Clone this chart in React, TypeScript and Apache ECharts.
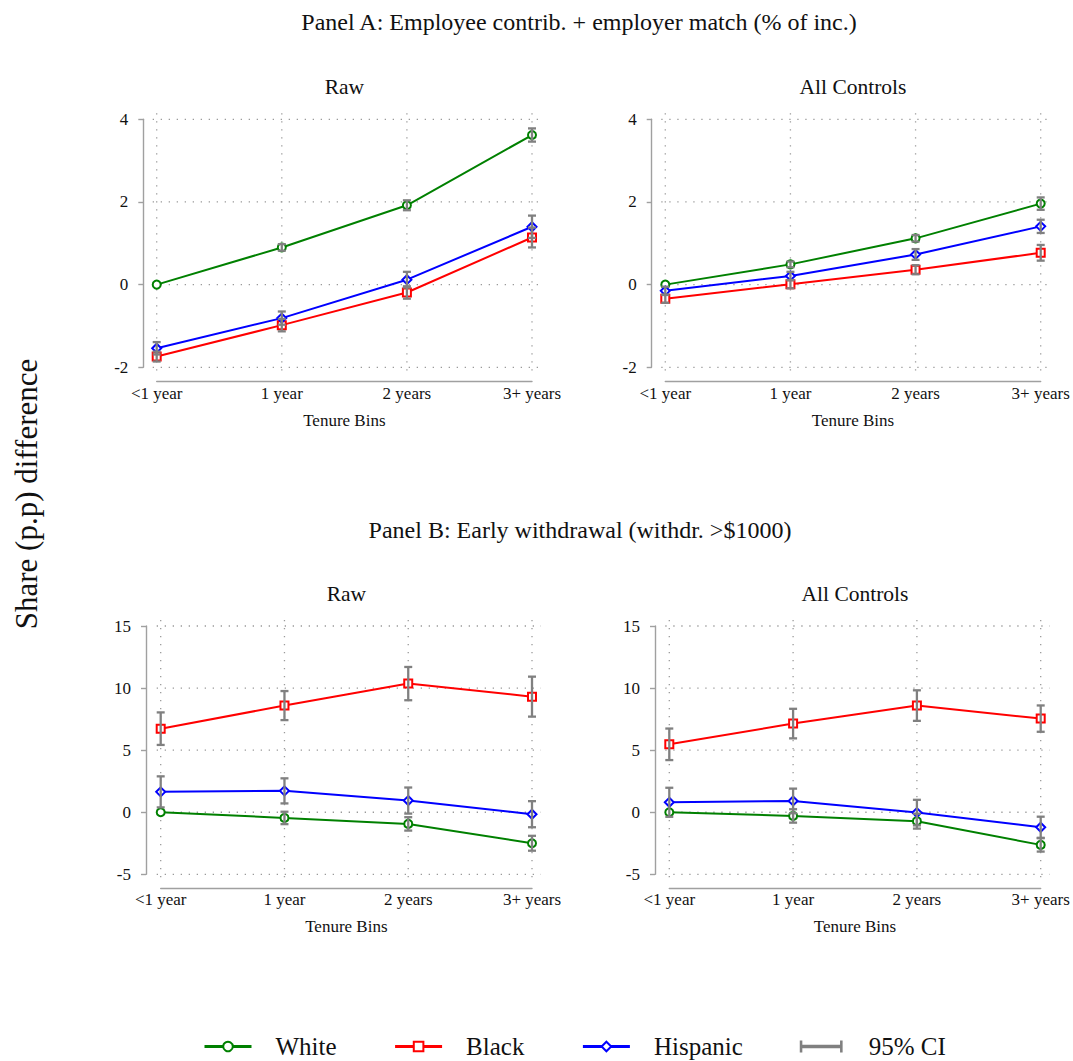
import React, { useEffect, useRef } from "react";
import * as echarts from "echarts";

// ---------- data ----------
const categories = ["<1 year", "1 year", "2 years", "3+ years"];
const groupNames = ["White", "Black", "Hispanic"];

// Panel A: Employee contrib. + employer match (% of inc.)
const aRawWhite = [0, 0.9, 1.92, 3.62];
const aRawBlack = [-1.74, -0.98, -0.19, 1.14];
const aRawHispanic = [-1.54, -0.81, 0.12, 1.4];
const aRawWhiteCI = [null, 0.08, 0.12, 0.16];
const aRawBlackCI = [0.12, 0.15, 0.15, 0.24];
const aRawHispanicCI = [0.15, 0.16, 0.19, 0.27];

const aCtrlWhite = [0, 0.49, 1.12, 1.96];
const aCtrlBlack = [-0.34, 0.01, 0.36, 0.77];
const aCtrlHispanic = [-0.15, 0.21, 0.73, 1.41];
const aCtrlWhiteCI = [null, 0.07, 0.08, 0.15];
const aCtrlBlackCI = [0.1, 0.1, 0.11, 0.19];
const aCtrlHispanicCI = [0.1, 0.1, 0.13, 0.16];

// Panel B: Early withdrawal (withdr. >$1000)
const bRawWhite = [0, -0.46, -0.94, -2.5];
const bRawBlack = [6.73, 8.59, 10.36, 9.31];
const bRawHispanic = [1.64, 1.72, 0.94, -0.16];
const bRawWhiteCI = [null, 0.5, 0.54, 0.6];
const bRawBlackCI = [1.31, 1.17, 1.34, 1.61];
const bRawHispanicCI = [1.25, 1.01, 1.05, 1.05];

const bCtrlWhite = [0, -0.3, -0.72, -2.63];
const bCtrlBlack = [5.47, 7.14, 8.59, 7.54];
const bCtrlHispanic = [0.8, 0.91, -0.03, -1.21];
const bCtrlWhiteCI = [null, 0.54, 0.6, 0.54];
const bCtrlBlackCI = [1.27, 1.19, 1.23, 1.06];
const bCtrlHispanicCI = [1.17, 0.99, 1.03, 0.85];

const yTicksA = [-2, 0, 2, 4];
const yTicksB = [-5, 0, 5, 10, 15];

const panelATitle = "Panel A: Employee contrib. + employer match (% of inc.)";
const panelBTitle = "Panel B: Early withdrawal (withdr. >$1000)";
const subTitles = ["Raw", "All Controls"];
const xAxisTitle = "Tenure Bins";
const yAxisTitle = "Share (p.p) difference";

// ---------- styles / layout ----------
const FONT = "'Liberation Serif', 'Times New Roman', serif";
const TEXT = "#111";
const AXIS = "#a0a0a0";
const GRIDC = "#9a9a9a";
const CI_COLOR = "#808080";
const groupColors = ["#008000", "#ff0000", "#0000ff"];
const groupSymbols = ["emptyCircle", "emptyRect", "emptyDiamond"];
const groupSymbolSizes = [8, 8, 9];

const panels = [
  {
    values: [aRawWhite, aRawBlack, aRawHispanic],
    ci: [aRawWhiteCI, aRawBlackCI, aRawHispanicCI],
    ticks: yTicksA, x0: 156.7, x3: 532, yTop: 119.3, yBot: 367.3, yAxisX: 143.3, xAxisY: 381.7,
  },
  {
    values: [aCtrlWhite, aCtrlBlack, aCtrlHispanic],
    ci: [aCtrlWhiteCI, aCtrlBlackCI, aCtrlHispanicCI],
    ticks: yTicksA, x0: 665.3, x3: 1040.7, yTop: 119.3, yBot: 367.3, yAxisX: 651.7, xAxisY: 381.7,
  },
  {
    values: [bRawWhite, bRawBlack, bRawHispanic],
    ci: [bRawWhiteCI, bRawBlackCI, bRawHispanicCI],
    ticks: yTicksB, x0: 160.7, x3: 532, yTop: 626, yBot: 874.3, yAxisX: 146, xAxisY: 888.3,
  },
  {
    values: [bCtrlWhite, bCtrlBlack, bCtrlHispanic],
    ci: [bCtrlWhiteCI, bCtrlBlackCI, bCtrlHispanicCI],
    ticks: yTicksB, x0: 669.3, x3: 1040.7, yTop: 626, yBot: 874.3, yAxisX: 655, xAxisY: 888.3,
  },
];

const PAD_L = 4, PAD_R = 9, PAD_T = 6, PAD_B = 7;

function buildOption() {
  const grid: any[] = [];
  const xAxis: any[] = [];
  const yAxis: any[] = [];
  const series: any[] = [];

  panels.forEach((p, i) => {
    const yMin = p.ticks[0];
    const yMax = p.ticks[p.ticks.length - 1];
    const yInt = p.ticks[1] - p.ticks[0];
    const ppx = (p.x3 - p.x0) / 3;
    const ppy = (p.yBot - p.yTop) / (yMax - yMin);
    const outer = 2 * i;
    const inner = 2 * i + 1;

    grid.push({
      left: p.x0 - PAD_L,
      top: p.yTop - PAD_T,
      width: p.x3 - p.x0 + PAD_L + PAD_R,
      height: p.yBot - p.yTop + PAD_T + PAD_B,
    });
    grid.push({ left: p.x0, top: p.yTop, width: p.x3 - p.x0, height: p.yBot - p.yTop });

    xAxis.push({
      type: "value", gridIndex: outer, show: false,
      min: -PAD_L / ppx, max: 3 + PAD_R / ppx,
    });
    yAxis.push({
      type: "value", gridIndex: outer, show: false,
      min: yMin - PAD_B / ppy, max: yMax + PAD_T / ppy,
    });

    xAxis.push({
      type: "value", gridIndex: inner, min: 0, max: 3, interval: 1,
      position: "bottom",
      offset: p.xAxisY - p.yBot,
      axisLine: { show: true, onZero: false, lineStyle: { color: AXIS, width: 1.4 } },
      axisTick: { show: false },
      splitLine: { show: false },
      axisLabel: {
        formatter: (v: number) => categories[v] ?? "",
        fontSize: 17, fontFamily: FONT, color: TEXT, margin: 3,
      },
      name: xAxisTitle, nameLocation: "middle", nameGap: 30,
      nameTextStyle: { fontSize: 17, fontFamily: FONT, color: TEXT },
    });
    yAxis.push({
      type: "value", gridIndex: inner, min: yMin, max: yMax, interval: yInt,
      position: "left",
      offset: p.x0 - p.yAxisX,
      axisLine: { show: true, onZero: false, lineStyle: { color: AXIS, width: 1.4 } },
      axisTick: { show: true, length: 5, lineStyle: { color: AXIS, width: 1.4 } },
      splitLine: { show: false },
      axisLabel: { fontSize: 17, fontFamily: FONT, color: TEXT, margin: 15 },
    });

    // dotted gridlines (horizontal at y ticks, vertical at categories)
    const gridData: any[] = [];
    p.ticks.forEach((t) => gridData.push([0, t, 0]));
    categories.forEach((_, k) => gridData.push([k, p.ticks[1], 1]));
    series.push({
      type: "custom", xAxisIndex: outer, yAxisIndex: outer, silent: true, z: 1,
      data: gridData,
      renderItem: (params: any, api: any) => {
        const cs = params.coordSys;
        const pt = api.coord([api.value(0), api.value(1)]);
        const vertical = api.value(2) === 1;
        const shape = vertical
          ? { x1: pt[0], y1: cs.y, x2: pt[0], y2: cs.y + cs.height }
          : { x1: cs.x, y1: pt[1], x2: cs.x + cs.width, y2: pt[1] };
        return {
          type: "line", shape,
          style: { stroke: GRIDC, lineWidth: 1.3, lineDash: [1.3, 6.7] },
        };
      },
    });

    // lines
    groupNames.forEach((name, g) => {
      series.push({
        type: "line", name, xAxisIndex: inner, yAxisIndex: inner, z: 3,
        data: p.values[g].map((v, k) => [k, v]),
        symbol: groupSymbols[g], symbolSize: groupSymbolSizes[g], showSymbol: true,
        lineStyle: { color: groupColors[g], width: 2 },
        itemStyle: { color: groupColors[g], borderWidth: 1.8 },
        clip: false,
      });
    });

    // CIs
    const ciRows: any[] = [];
    groupNames.forEach((_, g) => {
      p.values[g].forEach((v, k) => {
        const h = p.ci[g][k];
        if (h != null) ciRows.push([k, v - h, v + h]);
      });
    });
    series.push({
      type: "custom", name: "95% CI", xAxisIndex: inner, yAxisIndex: inner, z: 5,
      itemStyle: { color: CI_COLOR },
      encode: { x: 0, y: [1, 2] },
      data: ciRows,
      renderItem: (params: any, api: any) => {
        const lo = api.coord([api.value(0), api.value(1)]);
        const hi = api.coord([api.value(0), api.value(2)]);
        const w = 4;
        const st = { stroke: CI_COLOR, lineWidth: 2.3 };
        return {
          type: "group",
          children: [
            { type: "line", shape: { x1: lo[0], y1: lo[1], x2: hi[0], y2: hi[1] }, style: st },
            { type: "line", shape: { x1: lo[0] - w, y1: lo[1], x2: lo[0] + w, y2: lo[1] }, style: st },
            { type: "line", shape: { x1: hi[0] - w, y1: hi[1], x2: hi[0] + w, y2: hi[1] }, style: st },
          ],
        };
      },
    });
  });

  const txt = (text: string, x: number, y: number, size: number, rotation = 0) => ({
    type: "text", x, y, rotation,
    style: {
      text, fontSize: size, fontFamily: FONT, fill: TEXT,
      align: "center", verticalAlign: "middle",
    },
  });

  const graphic = [
    txt(panelATitle, 579, 22, 24),
    txt(subTitles[0], (panels[0].x0 + panels[0].x3) / 2, 87, 21.5),
    txt(subTitles[1], (panels[1].x0 + panels[1].x3) / 2, 87, 21.5),
    txt(panelBTitle, 580, 530, 24),
    txt(subTitles[0], (panels[2].x0 + panels[2].x3) / 2, 594, 21.5),
    txt(subTitles[1], (panels[3].x0 + panels[3].x3) / 2, 594, 21.5),
    txt(yAxisTitle, 26, 494, 31, Math.PI / 2),
  ];

  return {
    animation: false,
    backgroundColor: "#ffffff",
    grid, xAxis, yAxis, series, graphic,
    legend: {
      data: [
        { name: "White" },
        { name: "Black" },
        { name: "Hispanic" },
        { name: "95% CI", icon: "path://M0,0 L3,0 L3,5 L47,5 L47,0 L50,0 L50,14 L47,14 L47,9 L3,9 L3,14 L0,14 Z" },
      ],
      left: 203, top: 1034,
      padding: 0,
      itemWidth: 47, itemHeight: 12, itemGap: 57,
      selectedMode: false,
      lineStyle: { width: 3 },
      textStyle: { fontSize: 25, fontFamily: FONT, color: TEXT, padding: [0, 0, 0, 19] },
    },
  };
}

export default function App() {
  const ref = useRef<HTMLDivElement>(null);
  useEffect(() => {
    if (!ref.current) return;
    const chart = echarts.init(ref.current, undefined, { renderer: "svg" });
    chart.setOption(buildOption() as any);
    return () => chart.dispose();
  }, []);
  return (
    <div
      ref={ref}
      style={{ position: "absolute", left: 0, top: 0, width: 1073, height: 1061, background: "#fff" }}
    />
  );
}
